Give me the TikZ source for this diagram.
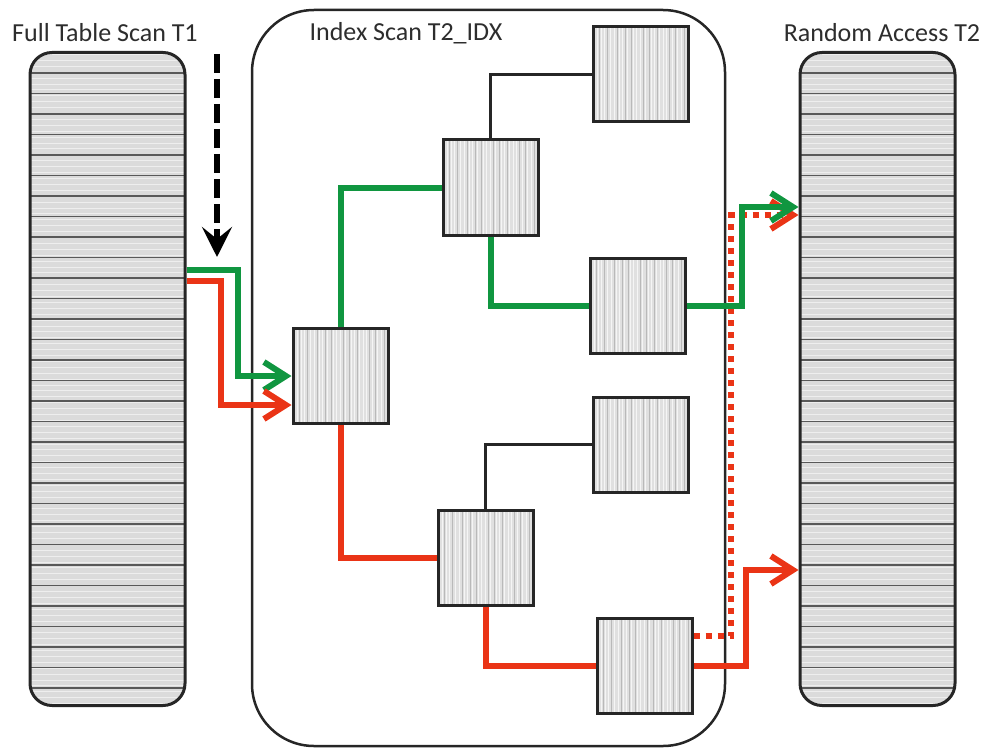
\documentclass[tikz,border=0pt]{standalone}
\usepackage{fontspec}
\setmainfont{Carlito}
\usetikzlibrary{arrows.meta,calc}
\definecolor{lgreen}{RGB}{16,150,64}
\definecolor{lred}{RGB}{234,52,22}
\definecolor{txt}{RGB}{45,45,45}
\tikzset{
  tablebox/.style={draw=black!85, line width=3pt, rounded corners=22pt, fill=gray!28,
    minimum width=155pt, minimum height=653pt, inner sep=0pt,
    path picture={
      \foreach \k in {0,...,110}
        \draw[white, opacity=0.55, line width=0.8pt]
          ([yshift={-\k*5.9pt-2pt}]path picture bounding box.north west) --
          ([yshift={-\k*5.9pt-2pt}]path picture bounding box.north east);
      \foreach \k in {1,...,32}
        \draw[gray!70!black, line width=1.4pt]
          ([yshift={-\k*20.5pt}]path picture bounding box.north west) --
          ([yshift={-\k*20.5pt}]path picture bounding box.north east);
    }},
  idxbox/.style={draw=black!85, line width=3pt, fill=gray!24,
    minimum width=95pt, minimum height=95pt, inner sep=0pt,
    path picture={
      \foreach \x in {4,8,11,17,21,26,29,34,40,43,47,52,58,61,66,70,73,79,84,88}
        \draw[white, opacity=0.7, line width=1pt]
          ([xshift=\x pt]path picture bounding box.south west) --
          ([xshift=\x pt]path picture bounding box.north west);
      \foreach \x in {6,14,24,32,38,50,56,64,76,82,91}
        \draw[gray!55, line width=0.6pt]
          ([xshift=\x pt]path picture bounding box.south west) --
          ([xshift=\x pt]path picture bounding box.north west);
    }},
  scanbox/.style={draw=black!85, line width=2.5pt, rounded corners=62pt,
    minimum width=473pt, minimum height=736pt, inner sep=0pt},
  lab/.style={text=txt, font=\fontsize{26}{30}\selectfont, inner sep=0pt},
  tree/.style={draw=black!85, line width=2.6pt},
  gline/.style={draw=lgreen, line width=6pt},
  rline/.style={draw=lred, line width=6pt},
  rdot/.style={draw=lred, line width=6pt, dash pattern=on 6pt off 6pt},
  barb/.style={-{Straight Barb[length=22pt,width=28pt]}},
  scanarrow/.style={draw=black, line width=6pt, dash pattern=on 19pt off 6pt,
    -{Stealth[length=30pt,width=30pt,inset=12pt]}},
}
\begin{document}
\begin{tikzpicture}[x=1pt,y=-1pt]
\useasboundingbox (0,0) rectangle (985,749);
% containers
\node[tablebox] (t1) at (107.5,379) {};
\node[tablebox] (t2) at (877.5,379) {};
\node[scanbox] (scan) at (488.5,378) {};
% labels
\node[lab] (l1) at (105,33) {Full Table Scan T1};
\node[lab] (l2) at (406,33) {Index Scan T2\_IDX};
\node[lab] (l3) at (882,33) {Random Access T2};
% index nodes
\node[idxbox] (root) at (340.5,376) {};
\node[idxbox] (upmid) at (490.5,187.5) {};
\node[idxbox] (tr) at (640.5,74.5) {};
\node[idxbox] (ur) at (637.5,305.5) {};
\node[idxbox] (lr) at (640.5,444.5) {};
\node[idxbox] (lowmid) at (485.5,557.5) {};
\node[idxbox] (br) at (644.5,666) {};
% black tree lines
\draw[tree] (upmid.north) |- (tr.west);
\draw[tree] (lowmid.north) |- (lr.west);
% red dotted
\draw[rdot, barb] (br.east |- 0,636) -- (731,636) -- (731,215) -- (t2.west |- 0,215);
% green path
\draw[gline, barb] (t1.east |- 0,270) -- (238,270) -- (238,376) -- (root.west);
\draw[gline] (root.north) |- (upmid.west);
\draw[gline] (upmid.south) |- (ur.west);
\draw[gline, barb] (ur.east) -- (742,305.5) -- (742,207) -- (t2.west |- 0,207);
% red path
\draw[rline, barb] (t1.east |- 0,281) -- (221,281) -- (221,405) -- (root.west |- 0,405);
\draw[rline] (root.south) |- (lowmid.west);
\draw[rline] (lowmid.south) |- (br.west);
\draw[rline, barb] (br.east) -- (746,666) -- (746,570) -- (t2.west |- 0,570);
% dashed scan arrow
\coordinate (ds) at (217,54);
\coordinate (de) at (217,257);
\draw[scanarrow] (ds) -- (de);
\end{tikzpicture}
\end{document}
